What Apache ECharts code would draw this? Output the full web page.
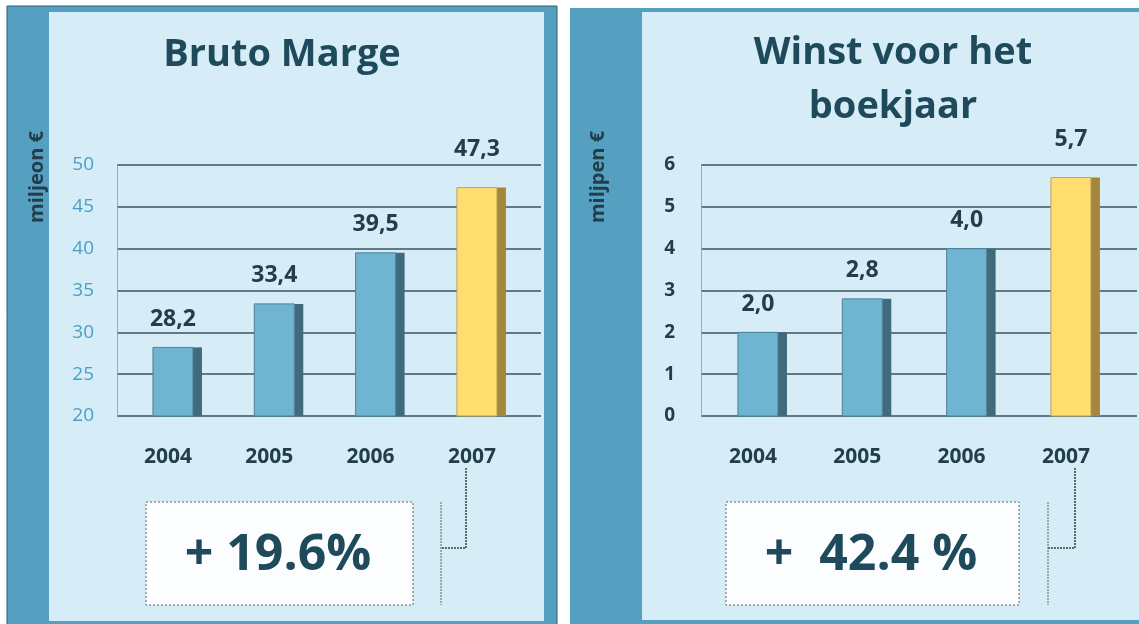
<!DOCTYPE html>
<html>
<head>
<meta charset="utf-8">
<script src="https://cdn.jsdelivr.net/npm/echarts@6/dist/echarts.min.js"></script>
<style>
  html, body { margin: 0; padding: 0; background: #fff; }
  #chart { width: 1139px; height: 624px; }
</style>
</head>
<body>
<div id="chart"></div>
<script>
// values (miljoen euro)
var years = ['2004', '2005', '2006', '2007'];
var brutoMarge = [28.2, 33.4, 39.5, 47.3];
var winst = [2.0, 2.8, 4.0, 5.7];
var brutoTicks = [20, 25, 30, 35, 40, 45, 50];
var winstTicks = [0, 1, 2, 3, 4, 5, 6];
var highlightYear = '2007';

var FONT = '"Open Sans", "DejaVu Sans", sans-serif';
var DARK = '#243d4a';
var TITLE = '#1f4a5c';
var GRIDLINE = '#5f7a85';

function fmt(v) {
  return v.toFixed(1).replace('.', ',');
}

function barRenderer(ticks) {
  var min = ticks[0];
  return function(params, api) {
    var idx = api.value(0);
    var val = api.value(1);
    var top = api.coord([idx, val]);
    var base = api.coord([idx, min]);
    var hot = years[idx] === highlightYear;
    var w = 40, d = 9;
    var h = base[1] - top[1];
    var x0 = top[0] - w / 2;
    return {
      type: 'group',
      children: [{
        type: 'rect',
        shape: { x: x0 + w, y: top[1], width: d, height: h },
        style: { fill: hot ? '#a4873c' : '#3f6b7c' }
      }, {
        type: 'rect',
        shape: { x: x0, y: top[1], width: w, height: h },
        style: { fill: hot ? '#ffdd6e' : '#6fb4d0', stroke: hot ? '#b9a55a' : '#4c8197', lineWidth: 1 }
      }, {
        type: 'text',
        x: top[0],
        y: top[1] - (hot ? 38 : 28),
        style: {
          text: fmt(val), fill: DARK, fontFamily: FONT, fontWeight: 'bold', fontSize: 23,
          align: 'center', verticalAlign: 'middle'
        }
      }]
    };
  };
}

// grids: 0/2 carry the horizontal lines, 1/3 carry the bars
var grids = [
  { left: 117, top: 165, width: 424, height: 251 },
  { left: 122.3, top: 165, width: 405.3, height: 251 },
  { left: 701, top: 165, width: 436, height: 251 },
  { left: 705.8, top: 165, width: 417.3, height: 251 }
];

function lineAxisY(gridIndex, ticks, labelStyle, margin) {
  return {
    type: 'value', gridIndex: gridIndex,
    min: ticks[0], max: ticks[ticks.length - 1], interval: ticks[1] - ticks[0],
    axisLine: { show: true, lineStyle: { color: '#8f9ea5', type: 'dotted', width: 1 } },
    axisTick: { show: false },
    axisLabel: Object.assign({ margin: margin, fontFamily: FONT }, labelStyle),
    splitLine: { show: true, lineStyle: { color: GRIDLINE, width: 2 } }
  };
}

function hiddenAxisY(gridIndex, ticks) {
  return {
    type: 'value', gridIndex: gridIndex, show: false,
    min: ticks[0], max: ticks[ticks.length - 1], interval: ticks[1] - ticks[0]
  };
}

function catAxisX(gridIndex) {
  return {
    type: 'category', gridIndex: gridIndex, data: years,
    axisLine: { show: false }, axisTick: { show: false }, splitLine: { show: false },
    axisLabel: {
      margin: 31, color: DARK, fontFamily: FONT, fontWeight: 'bold', fontSize: 21,
      padding: [0, 10, 0, 0]
    }
  };
}

function textEl(x, y, text, size, color, extra) {
  return Object.assign({
    type: 'text', x: x, y: y, z: 5,
    style: {
      text: text, fill: color, fontFamily: FONT, fontWeight: 'bold', fontSize: size,
      align: 'center', verticalAlign: 'middle'
    }
  }, extra || {});
}

var graphics = [
  // panels
  { type: 'rect', z: -10, shape: { x: 7, y: 6, width: 550, height: 624 }, style: { fill: '#55a0c1', stroke: '#2f5f75', lineWidth: 1 } },
  { type: 'rect', z: -10, shape: { x: 49, y: 12, width: 495, height: 609 }, style: { fill: '#d6edf7' } },
  { type: 'rect', z: -10, shape: { x: 570, y: 8, width: 580, height: 624 }, style: { fill: '#55a0c1' } },
  { type: 'rect', z: -10, shape: { x: 642, y: 12, width: 510, height: 608 }, style: { fill: '#d6edf7' } },
  // titles
  textEl(282, 55, 'Bruto Marge', 38, TITLE),
  textEl(893, 53, 'Winst voor het', 38, TITLE),
  textEl(893, 107, 'boekjaar', 38, TITLE),
  // axis names
  textEl(37, 177, 'miljeon €', 20, DARK, { rotation: Math.PI / 2 }),
  textEl(598, 177, 'miljpen €', 20, DARK, { rotation: Math.PI / 2 }),
  // growth boxes
  { type: 'rect', z: 4, shape: { x: 146, y: 502, width: 267, height: 103 }, style: { fill: '#fbfdfe', stroke: '#5a6368', lineWidth: 1, lineDash: [2, 2] } },
  { type: 'rect', z: 4, shape: { x: 726, y: 502, width: 293, height: 103 }, style: { fill: '#fbfdfe', stroke: '#5a6368', lineWidth: 1, lineDash: [2, 2] } },
  textEl(278, 556, '+ 19.6%', 50, TITLE),
  textEl(871, 556, '+  42.4 %', 50, TITLE),
  // connectors
  { type: 'polyline', z: 4, shape: { points: [[441, 502], [441, 605]] }, style: { fill: null, stroke: '#9aa8b0', lineWidth: 2, lineDash: [2, 1] } },
  { type: 'polyline', z: 4, shape: { points: [[466, 468], [466, 548], [441, 548]] }, style: { fill: null, stroke: '#5b6a72', lineWidth: 2, lineDash: [2, 1] } },
  { type: 'polyline', z: 4, shape: { points: [[1048, 502], [1048, 605]] }, style: { fill: null, stroke: '#9aa8b0', lineWidth: 2, lineDash: [2, 1] } },
  { type: 'polyline', z: 4, shape: { points: [[1075, 468], [1075, 548], [1048, 548]] }, style: { fill: null, stroke: '#5b6a72', lineWidth: 2, lineDash: [2, 1] } }
];

var option = {
  animation: false,
  grid: grids,
  xAxis: [
    { type: 'value', gridIndex: 0, show: false, min: 0, max: 1 },
    catAxisX(1),
    { type: 'value', gridIndex: 2, show: false, min: 0, max: 1 },
    catAxisX(3)
  ],
  yAxis: [
    lineAxisY(0, brutoTicks, { color: '#4aa0c4', fontSize: 19 }, 23),
    hiddenAxisY(1, brutoTicks),
    lineAxisY(2, winstTicks, { color: DARK, fontSize: 19, fontWeight: 'bold' }, 26),
    hiddenAxisY(3, winstTicks)
  ],
  graphic: { elements: graphics },
  series: [{
    type: 'custom', name: 'Bruto Marge', xAxisIndex: 1, yAxisIndex: 1, z: 3,
    renderItem: barRenderer(brutoTicks),
    data: brutoMarge.map(function(v, i) { return [i, v]; })
  }, {
    type: 'custom', name: 'Winst voor het boekjaar', xAxisIndex: 3, yAxisIndex: 3, z: 3,
    renderItem: barRenderer(winstTicks),
    data: winst.map(function(v, i) { return [i, v]; })
  }]
};

var myChart = echarts.init(document.getElementById('chart'));
myChart.setOption(option);
</script>
</body>
</html>
